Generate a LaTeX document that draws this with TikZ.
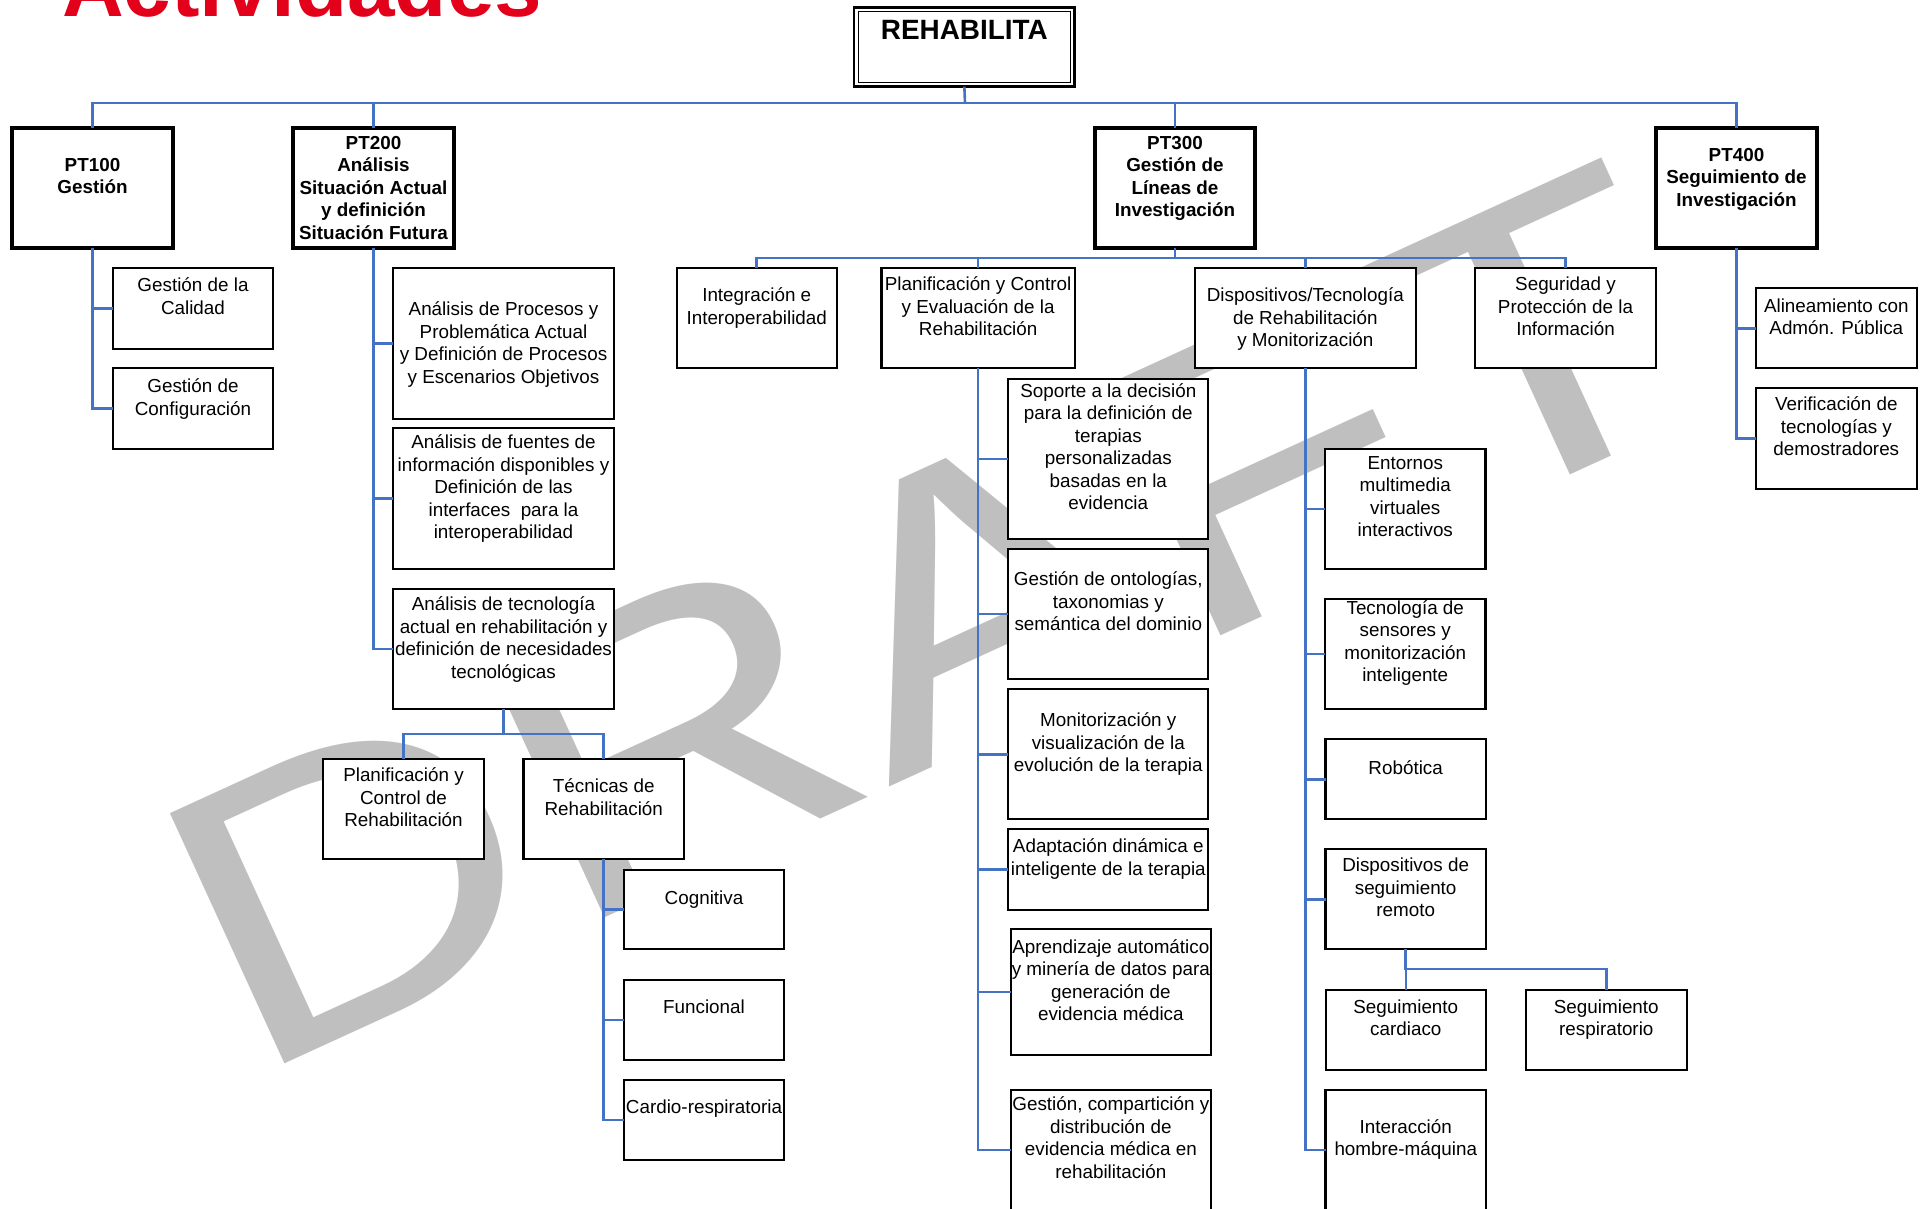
\documentclass[tikz,border=0pt]{standalone}
\usepackage{fontspec}
\setmainfont{Liberation Sans}

\definecolor{linkblue}{RGB}{68,114,196}
\definecolor{titlered}{RGB}{226,0,26}

\begin{document}
\begin{tikzpicture}[%
        x = 1pt,
        y = -1pt,
        pt/.style = {draw, line width = 3.2pt, fill = white,
            anchor = north west, inner sep = 0pt, outer sep = 0pt},
        box/.style = {draw, line width = 2.2pt, fill = white,
            anchor = north west, inner sep = 0pt, outer sep = 0pt},
        txt/.style = {align = center, anchor = base, inner sep = 0pt,
            font = \fontsize{18.85}{22.5}\selectfont},
        hdr/.style = {txt, font = \fontsize{18.85}{22.5}\selectfont\bfseries},
        link/.style = {draw = linkblue, line width = 2.6pt},
        wmark/.style = {anchor = base west, inner sep = 0pt, text = black!25,
            rotate = 24.6, xscale = 1.22,
            font = \fontsize{400}{400}\selectfont}
    ]

        % Page.
        \path[use as bounding box, fill = white] (0, 0) rectangle (1923, 1209);

        % Watermark and title.
        \node[wmark] (draft) at (248, 1081) {DRAFT};
        \node[anchor = base west, inner sep = 0pt, text = titlered,
            font = \fontsize{85.5}{85.5}\selectfont\bfseries] (title) at (62, 17) {Actividades};

        % Root.
        \node[box, line width = 2.8pt, minimum width = 220.7, minimum height = 79.4] (rehab) at (854, 7.3) {};
        \draw[line width = 1.6pt] ([shift = {(4.3, 4.3)}]rehab.north west)
            rectangle ([shift = {(-4.3, -4.3)}]rehab.south east);
        \node[hdr, font = \fontsize{27.9}{30}\selectfont\bfseries] (rehab-t)
            at ([yshift = -32pt]rehab.north) {REHABILITA};

        % Work packages (text is placed by the baseline of its last line).
        \node[pt, minimum width = 161, minimum height = 120] (pt100) at (12, 128) {};
        \node[pt, minimum width = 161, minimum height = 120] (pt200) at (293, 128) {};
        \node[pt, minimum width = 160, minimum height = 120] (pt300) at (1095, 128) {};
        \node[pt, minimum width = 161, minimum height = 120] (pt400) at (1656, 128) {};
        \node[hdr] (pt100-t) at ([yshift = -66pt]pt100.north) {PT100\\Gestión};
        \node[hdr] (pt200-t) at ([yshift = -111.5pt]pt200.north)
            {PT200\\Análisis\\Situación Actual\\y definición\\Situación Futura};
        \node[hdr] (pt300-t) at ([yshift = -89pt]pt300.north)
            {PT300\\Gestión de\\Líneas de\\Investigación};
        \node[hdr] (pt400-t) at ([yshift = -78.5pt]pt400.north)
            {PT400\\Seguimiento de\\Investigación};

        % PT100 tasks.
        \node[box, minimum width = 160, minimum height = 81] (cal) at (113, 268) {};
        \node[box, minimum width = 160, minimum height = 81] (conf) at (113, 368) {};
        \node[txt] (cal-t) at ([yshift = -46pt]cal.north) {Gestión de la\\Calidad};
        \node[txt] (conf-t) at ([yshift = -47pt]conf.north) {Gestión de\\Configuración};

        % PT200 tasks.
        \node[box, minimum width = 221, minimum height = 151] (proc) at (393, 268) {};
        \node[box, minimum width = 221, minimum height = 141] (fuen) at (393, 428) {};
        \node[box, minimum width = 221, minimum height = 120] (tecn) at (393, 589) {};
        \node[box, minimum width = 161, minimum height = 100] (plan) at (323, 759) {};
        \node[box, minimum width = 160.5, minimum height = 100] (tecr) at (523.5, 759) {};
        \node[box, minimum width = 160, minimum height = 79.3] (cogn) at (624, 870) {};
        \node[box, minimum width = 160, minimum height = 80] (func) at (624, 980) {};
        \node[box, minimum width = 160, minimum height = 80] (card) at (624, 1080) {};
        \node[txt] (proc-t) at ([yshift = -115.3pt]proc.north)
            {Análisis de Procesos y\\Problemática Actual\\y Definición de Procesos\\y Escenarios Objetivos};
        \node[txt] (fuen-t) at ([yshift = -110.8pt]fuen.north)
            {Análisis de fuentes de\\información disponibles y\\Definición de las\\interfaces\ \ para la\\interoperabilidad};
        \node[txt] (tecn-t) at ([yshift = -89pt]tecn.north)
            {Análisis de tecnología\\actual en rehabilitación y\\definición de necesidades\\tecnológicas};
        \node[txt] (plan-t) at ([yshift = -67.5pt]plan.north) {Planificación y\\Control de\\Rehabilitación};
        \node[txt] (tecr-t) at ([yshift = -56pt]tecr.north) {Técnicas de\\Rehabilitación};
        \node[txt] (cogn-t) at ([yshift = -34.5pt]cogn.north) {Cognitiva};
        \node[txt] (func-t) at ([yshift = -33.5pt]func.north) {Funcional};
        \node[txt] (card-t) at ([yshift = -33.8pt]card.north) {Cardio-respiratoria};

        % PT300 lines.
        \node[box, minimum width = 160.3, minimum height = 100] (integ) at (676.6, 268) {};
        \node[box, minimum width = 193.3, minimum height = 100] (plc) at (881.5, 268) {};
        \node[box, minimum width = 220.7, minimum height = 100] (dis) at (1195, 268) {};
        \node[box, minimum width = 181, minimum height = 100] (seg) at (1475, 268) {};
        \node[txt] (integ-t) at ([yshift = -56pt]integ.north) {Integración e\\Interoperabilidad};
        \node[txt] (plc-t) at ([yshift = -67.5pt]plc.north)
            {Planificación y Control\\y Evaluación de la\\Rehabilitación};
        \node[txt] (dis-t) at ([yshift = -78.5pt]dis.north)
            {Dispositivos/Tecnología\\de Rehabilitación\\y Monitorización};
        \node[txt] (seg-t) at ([yshift = -67.5pt]seg.north)
            {Seguridad y\\Protección de la\\Información};

        % Planning and evaluation tasks.
        \node[box, minimum width = 200, minimum height = 160] (sop) at (1008.3, 379) {};
        \node[box, minimum width = 200, minimum height = 130] (onto) at (1008.3, 549) {};
        \node[box, minimum width = 200, minimum height = 130] (moni) at (1008.3, 689.3) {};
        \node[box, minimum width = 200, minimum height = 80.7] (adap) at (1008.3, 829.3) {};
        \node[box, minimum width = 200.3, minimum height = 125.7] (apre) at (1010.7, 929.3) {};
        \node[box, minimum width = 200.3, minimum height = 120] (gcom) at (1010.7, 1090) {};
        \node[txt] (sop-t) at ([yshift = -130.7pt]sop.north)
            {Soporte a la decisión\\para la definición de\\terapias\\personalizadas\\basadas en la\\evidencia};
        \node[txt] (onto-t) at ([yshift = -81.8pt]onto.north)
            {Gestión de ontologías,\\taxonomias y\\semántica del dominio};
        \node[txt] (moni-t) at ([yshift = -82.2pt]moni.north)
            {Monitorización y\\visualización de la\\evolución de la terapia};
        \node[txt] (adap-t) at ([yshift = -45.7pt]adap.north)
            {Adaptación dinámica e\\inteligente de la terapia};
        \node[txt] (apre-t) at ([yshift = -91.4pt]apre.north)
            {Aprendizaje automático\\y minería de datos para\\generación de\\evidencia médica};
        \node[txt] (gcom-t) at ([yshift = -88pt]gcom.north)
            {Gestión, compartición y\\distribución de\\evidencia médica en\\rehabilitación};

        % Device and technology tasks.
        \node[box, minimum width = 160.5, minimum height = 120] (ento) at (1325, 449) {};
        \node[box, minimum width = 160.5, minimum height = 110.3] (sens) at (1325, 599) {};
        \node[box, minimum width = 160.3, minimum height = 80] (robo) at (1325.5, 739.3) {};
        \node[box, minimum width = 160.3, minimum height = 100] (remo) at (1325.5, 849.3) {};
        \node[box, minimum width = 160.4, minimum height = 80] (scar) at (1325.6, 990) {};
        \node[box, minimum width = 161.4, minimum height = 80] (sres) at (1525.6, 990) {};
        \node[box, minimum width = 160.5, minimum height = 120] (hmaq) at (1325.5, 1090) {};
        \node[txt] (ento-t) at ([yshift = -87.7pt]ento.north)
            {Entornos\\multimedia\\virtuales\\interactivos};
        \node[txt] (sens-t) at ([yshift = -82.7pt]sens.north)
            {Tecnología de\\sensores y\\monitorización\\inteligente};
        \node[txt] (robo-t) at ([yshift = -34.9pt]robo.north) {Robótica};
        \node[txt] (remo-t) at ([yshift = -67.2pt]remo.north)
            {Dispositivos de\\seguimiento\\remoto};
        \node[txt] (scar-t) at ([yshift = -45.7pt]scar.north) {Seguimiento\\cardiaco};
        \node[txt] (sres-t) at ([yshift = -45.7pt]sres.north) {Seguimiento\\respiratorio};
        \node[txt] (hmaq-t) at ([yshift = -65.7pt]hmaq.north) {Interacción\\hombre-máquina};

        % PT400 tasks.
        \node[box, minimum width = 160.6, minimum height = 80] (alin) at (1756, 288.3) {};
        \node[box, minimum width = 160.6, minimum height = 100.7] (veri) at (1756, 388.3) {};
        \node[txt] (alin-t) at ([yshift = -46.4pt]alin.north) {Alineamiento con\\Admón. Pública};
        \node[txt] (veri-t) at ([yshift = -67.2pt]veri.north)
            {Verificación de\\tecnologías y\\demostradores};

        % Connectors.
        \coordinate (bus) at (965, 103);
        \draw[link] (rehab.south) -- (bus);
        \foreach \p in {pt100, pt200, pt300, pt400}{%
            \draw[link] (\p.north) |- (bus);
        }
        \foreach \ch in {cal, conf}{%
            \draw[link] (pt100.south) |- (\ch.west);
        }
        \foreach \ch in {proc, fuen, tecn}{%
            \draw[link] (pt200.south) |- (\ch.west);
        }
        \foreach \ch in {plan, tecr}{%
            \draw[link] (tecn.south) -- ++(0, 25) -| (\ch.north);
        }
        \foreach \ch in {cogn, func, card}{%
            \draw[link] (tecr.south) |- (\ch.west);
        }
        \foreach \ch in {integ, plc, dis, seg}{%
            \draw[link] (pt300.south) -- ++(0, 10) -| (\ch.north);
        }
        \foreach \ch in {sop, onto, moni, adap, apre, gcom}{%
            \draw[link] (plc.south) |- (\ch.west);
        }
        \foreach \ch in {ento, sens, robo, remo, hmaq}{%
            \draw[link] (dis.south) |- (\ch.west);
        }
        \foreach \ch in {scar, sres}{%
            \draw[link] (remo.south) -- ++(0, 19.7) -| (\ch.north);
        }
        \foreach \ch in {alin, veri}{%
            \draw[link] (pt400.south) |- (\ch.west);
        }
    \end{tikzpicture}
\end{document}
